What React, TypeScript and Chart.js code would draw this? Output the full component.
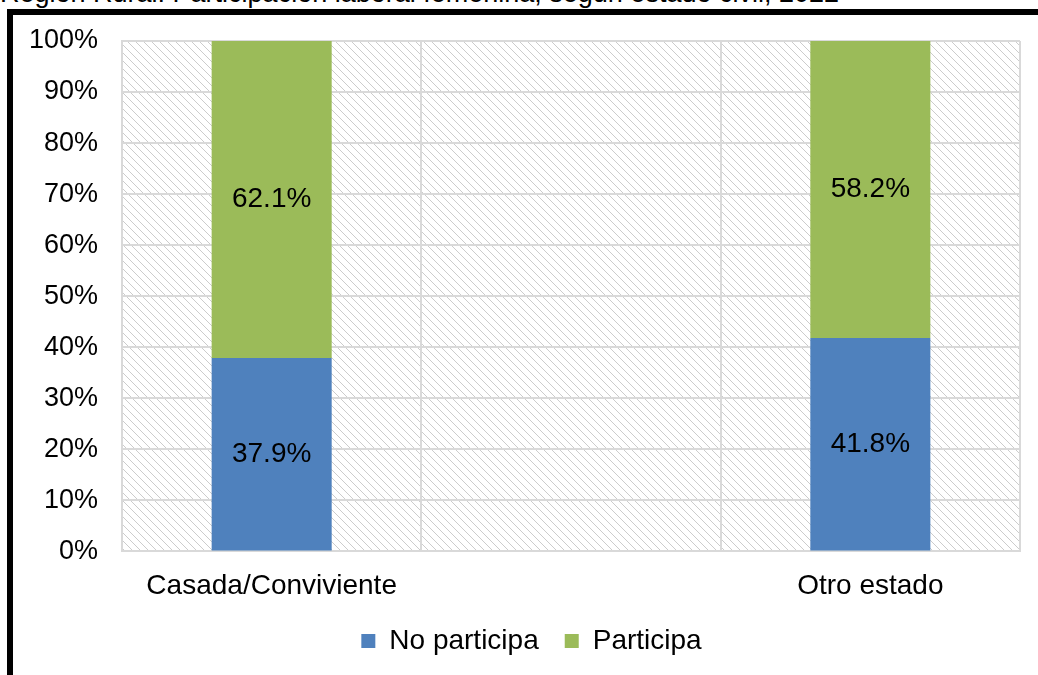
import React, { useEffect, useRef } from "react";
import { Chart, registerables } from "chart.js";

Chart.register(...registerables);

const TITLE = "Región Rural: Participación laboral femenina, según estado civil, 2022";
const CATEGORIES = ["Casada/Conviviente", "", "Otro estado"];
const NO_PARTICIPA = [37.9, null, 41.8];
const PARTICIPA = [62.1, null, 58.2];
const SERIES_NAMES = ["No participa", "Participa"];
const Y_TICKS = [0, 10, 20, 30, 40, 50, 60, 70, 80, 90, 100];

const FONT = "'Liberation Sans', Arial, sans-serif";
const BLUE = "#4F81BD";
const GREEN = "#9BBB59";
const GRID = "#d9d9d9";

function makePattern(ctx: CanvasRenderingContext2D): CanvasPattern | string {
  const tile = document.createElement("canvas");
  tile.width = 8;
  tile.height = 8;
  const t = tile.getContext("2d");
  if (!t) return "#ffffff";
  t.fillStyle = "#ffffff";
  t.fillRect(0, 0, 8, 8);
  t.fillStyle = "#cccccc";
  for (let i = 0; i < 8; i++) {
    t.fillRect(i, i, 1, 1);
  }
  const p = ctx.createPattern(tile, "repeat");
  return p || "#ffffff";
}

const hatchPlugin = {
  id: "hatchBg",
  beforeDraw(chart: any) {
    const { ctx, chartArea } = chart;
    if (!chartArea) return;
    ctx.save();
    ctx.fillStyle = makePattern(ctx);
    ctx.fillRect(chartArea.left, chartArea.top, chartArea.right - chartArea.left, chartArea.bottom - chartArea.top);
    ctx.restore();
  },
};

const adjustPlugin = {
  id: "adjustBoxes",
  afterLayout(chart: any) {
    if (chart.scales.x) chart.scales.x.bottom = chart.height;
    if (chart.legend) {
      chart.legend.left += 15;
      chart.legend.right += 15;
    }
  },
};

const labelPlugin = {
  id: "segLabels",
  afterDatasetsDraw(chart: any) {
    const { ctx } = chart;
    ctx.save();
    ctx.font = `28px ${FONT}`;
    ctx.fillStyle = "#000000";
    ctx.textAlign = "center";
    ctx.textBaseline = "middle";
    chart.data.datasets.forEach((ds: any, di: number) => {
      const meta = chart.getDatasetMeta(di);
      meta.data.forEach((bar: any, i: number) => {
        const v = ds.data[i];
        if (v === null || v === undefined) return;
        const y = (bar.y + bar.base) / 2;
        ctx.fillText(v.toFixed(1) + "%", bar.x, y);
      });
    });
    ctx.restore();
  },
};

export default function App() {
  const ref = useRef<HTMLCanvasElement | null>(null);

  useEffect(() => {
    if (!ref.current) return;
    const chart = new Chart(ref.current, {
      type: "bar",
      data: {
        labels: CATEGORIES,
        datasets: [
          { label: SERIES_NAMES[0], data: NO_PARTICIPA as any, backgroundColor: BLUE },
          { label: SERIES_NAMES[1], data: PARTICIPA as any, backgroundColor: GREEN },
        ],
      },
      options: {
        responsive: false,
        animation: false,
        devicePixelRatio: 1,
        layout: { padding: { left: 0, right: 18, top: 26, bottom: 10 } },
        datasets: { bar: { categoryPercentage: 1, barPercentage: 0.401 } } as any,
        plugins: {
          legend: {
            position: "bottom",
            labels: {
              font: { family: FONT, size: 28 },
              color: "#000",
              boxWidth: 14,
              boxHeight: 14,
              padding: 26,
            },
          },
          tooltip: { enabled: false },
        },
        scales: {
          x: {
            stacked: true,
            afterFit: (s: any) => { s.paddingLeft = 0; s.paddingRight = 0; s.height = s.height - 20; },
            grid: { color: GRID, lineWidth: 2, drawTicks: false, offset: true },
            border: { color: GRID, width: 2 },
            ticks: { font: { family: FONT, size: 28 }, color: "#000", padding: 18, maxRotation: 0 },
          },
          y: {
            stacked: true,
            min: 0,
            max: 100,
            afterFit: (s: any) => { s.width = 109; s.paddingTop = 0; s.paddingBottom = 0; },
            afterBuildTicks: (s: any) => { s.ticks = Y_TICKS.map((v) => ({ value: v })); },
            grid: { color: GRID, lineWidth: 2, drawTicks: false },
            border: { color: GRID, width: 2 },
            ticks: {
              font: { family: FONT, size: 27 },
              color: "#000",
              padding: 24,
              callback: (v: any) => v + "%",
            },
          },
        },
      },
      plugins: [hatchPlugin, adjustPlugin, labelPlugin],
    });
    return () => chart.destroy();
  }, []);

  return (
    <div style={{ position: "fixed", left: 0, top: 0, width: 1038, height: 675, overflow: "hidden", background: "#fff" }}>
      <div
        style={{
          position: "absolute",
          left: 0,
          top: -20,
          whiteSpace: "nowrap",
          fontFamily: FONT,
          fontSize: 27,
          lineHeight: "27px",
          color: "#000",
        }}
      >
        {TITLE}
      </div>
      <div
        style={{
          position: "absolute",
          left: 7,
          top: 9,
          width: 1100,
          height: 800,
          border: "6px solid #000",
          boxSizing: "border-box",
        }}
      />
      <canvas
        ref={ref}
        width={1025}
        height={660}
        style={{ position: "absolute", left: 13, top: 15, width: 1025, height: 660 }}
      />
    </div>
  );
}
